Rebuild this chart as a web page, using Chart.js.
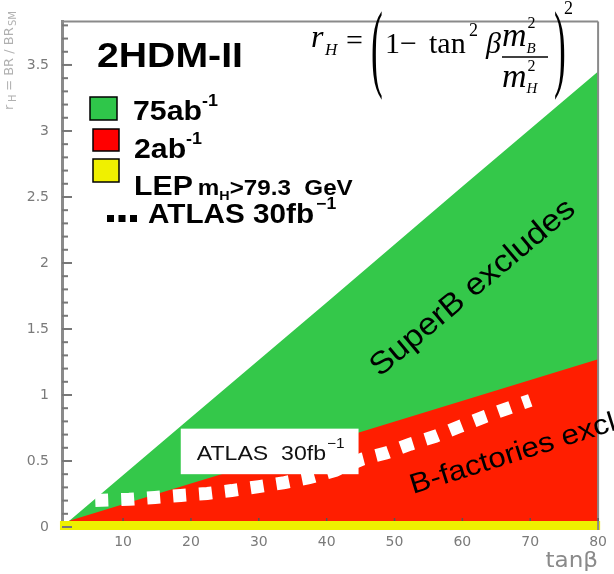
<!DOCTYPE html>
<html>
<head>
<meta charset="utf-8">
<script src="https://cdn.jsdelivr.net/npm/chart.js@4.4.1/dist/chart.umd.min.js"></script>
<style>
  html, body { margin: 0; padding: 0; background: #ffffff; }
  #wrap { width: 614px; height: 574px; }
</style>
</head>
<body>
<div id="wrap"><canvas id="c" width="614" height="574"></canvas></div>
<script>
// r_H exclusion regions versus tan(beta)
const superbTanb = [1, 20, 40, 60, 80];
const superbR    = [0.0, 0.83, 1.70, 2.58, 3.45];

const bfacTanb = [1, 20, 45, 80];
const bfacR    = [0.03, 0.33, 0.72, 1.27];

const lepTanb = [0.7, 80.3];
const lepR    = [0.011, 0.011];

const atlasTanb = [5.9, 10.9, 14.7, 18.5, 22.4, 26.0, 30.0, 33.8, 37.4, 41.3, 45.3, 48.7, 52.3, 56.0, 59.6, 63.3, 66.9, 70.0];
const atlasR    = [0.20, 0.21, 0.224, 0.239, 0.254, 0.276, 0.306, 0.336, 0.373, 0.43, 0.515, 0.56, 0.627, 0.687, 0.761, 0.836, 0.903, 0.96];

const xTicks = [10, 20, 30, 40, 50, 60, 70, 80];
const yTicks = [0, 0.5, 1, 1.5, 2, 2.5, 3, 3.5];

const pts = (xs, ys) => xs.map((x, i) => ({ x: x, y: ys[i] }));

const SANS = '"Liberation Sans", Arial, sans-serif';
const SERIF = '"Liberation Serif", "Times New Roman", serif';

// text helper with optional horizontal stretch; returns drawn width
function txt(ctx, s, x, y, font, color, sx, align) {
  ctx.save();
  ctx.font = font;
  ctx.fillStyle = color || '#000';
  ctx.textAlign = align || 'left';
  ctx.textBaseline = 'alphabetic';
  ctx.translate(x, y);
  ctx.scale(sx || 1, 1);
  ctx.fillText(s, 0, 0);
  const w = ctx.measureText(s).width * (sx || 1);
  ctx.restore();
  return w;
}

function line(ctx, x1, y1, x2, y2, color, w) {
  ctx.save();
  ctx.strokeStyle = color;
  ctx.lineWidth = w;
  ctx.beginPath();
  ctx.moveTo(x1, y1);
  ctx.lineTo(x2, y2);
  ctx.stroke();
  ctx.restore();
}

const decor = {
  id: 'decor',
  afterDraw(chart) {
    const ctx = chart.ctx;
    const a = chart.chartArea;
    const xs = chart.scales.x, ys = chart.scales.y;
    const gray = '#8a8a8a';

    // frame: top and right edges
    line(ctx, a.left, a.top, a.right, a.top, gray, 2);
    line(ctx, a.right, a.top, a.right, a.bottom + 3, gray, 2);

    // inward ticks on the y axis: every 0.1, longer every 0.5
    for (let i = 0; i <= 38; i++) {
      const v = i / 10;
      const py = ys.getPixelForValue(v);
      if (py < a.top + 2) continue;
      const major = (i % 5 === 0);
      line(ctx, a.left, py, a.left + (major ? 10 : 6), py, '#777', 2);
    }
    // inward ticks on the x axis (visible just above the LEP band)
    xTicks.forEach(v => {
      const px = xs.getPixelForValue(v);
      line(ctx, px, a.bottom - 6, px, a.bottom - 9, '#555', 1.5);
    });

    // axis titles
    txt(ctx, 'tan\u03B2', a.right, 567, '22px "DejaVu Sans", sans-serif', '#8a8a8a', 1.05, 'right');
    ctx.save();
    ctx.translate(13, 110);
    ctx.rotate(-Math.PI / 2);
    txt(ctx, 'r', 0, 0, '13px "DejaVu Sans", sans-serif', '#b0b0b0');
    txt(ctx, 'H', 8, 3, '10px "DejaVu Sans", sans-serif', '#b0b0b0');
    txt(ctx, ' = BR / BR', 15, 0, '13px "DejaVu Sans", sans-serif', '#b0b0b0');
    txt(ctx, 'SM', 84, 3, '10px "DejaVu Sans", sans-serif', '#b0b0b0');
    ctx.restore();

    // region labels
    ctx.save();
    ctx.translate(472, 287);
    ctx.rotate(-40 * Math.PI / 180);
    txt(ctx, 'SuperB excludes', 0, 10, '31px ' + SANS, '#000', 1.1, 'center');
    ctx.restore();

    ctx.save();
    ctx.translate(413, 494);
    ctx.rotate(-17.5 * Math.PI / 180);
    txt(ctx, 'B-factories excludes', 0, 0, '28px ' + SANS, '#000', 1.12, 'left');
    ctx.restore();

    // ATLAS label box
    const bx1 = xs.getPixelForValue(18.5), bx2 = xs.getPixelForValue(44.7);
    const by1 = ys.getPixelForValue(0.745), by2 = ys.getPixelForValue(0.40);
    ctx.save();
    ctx.fillStyle = '#ffffff';
    ctx.fillRect(bx1, by1, bx2 - bx1, by2 - by1);
    ctx.restore();
    let w = txt(ctx, 'ATLAS  30fb', bx1 + 16, by1 + 31, '21px ' + SANS, '#111', 1.1);
    txt(ctx, '\u22121', bx1 + 17 + w, by1 + 19, '14px ' + SANS, '#111', 1.1);

    // model title
    txt(ctx, '2HDM-II', 97, 67, 'bold 35px ' + SANS, '#000', 1.12);

    // legend
    const boxes = [
      { x: 90, y: 97, w: 27, h: 23, c: '#2fc64a' },
      { x: 93, y: 129, w: 26, h: 22, c: '#ff0000' },
      { x: 93, y: 159, w: 26, h: 23, c: '#f0f000' }
    ];
    boxes.forEach(b => {
      ctx.save();
      ctx.fillStyle = b.c;
      ctx.fillRect(b.x, b.y, b.w, b.h);
      ctx.strokeStyle = '#000';
      ctx.lineWidth = 1.5;
      ctx.strokeRect(b.x, b.y, b.w, b.h);
      ctx.restore();
    });
    const LF = 'bold 27px ' + SANS, LS = 'bold 16px ' + SANS;
    w = txt(ctx, '75ab', 133, 120, LF, '#000', 1.12);
    txt(ctx, '-1', 133 + w, 106, LS, '#000', 1.12);
    w = txt(ctx, '2ab', 134, 158, LF, '#000', 1.12);
    txt(ctx, '-1', 134 + w, 144, LS, '#000', 1.12);
    w = txt(ctx, 'LEP', 134, 195, LF, '#000', 1.12);
    let x0 = 134 + w + 5;
    x0 += txt(ctx, 'm', x0, 195, 'bold 22px ' + SANS, '#000', 1.1);
    x0 += txt(ctx, 'H', x0, 200, 'bold 13px ' + SANS, '#000', 1.1);
    txt(ctx, '>79.3  GeV', x0, 195, 'bold 22px ' + SANS, '#000', 1.1);
    ctx.save();
    ctx.strokeStyle = '#000';
    ctx.lineWidth = 7;
    ctx.setLineDash([7, 4.5]);
    ctx.beginPath();
    ctx.moveTo(107, 218.5);
    ctx.lineTo(137, 218.5);
    ctx.stroke();
    ctx.restore();
    w = txt(ctx, 'ATLAS 30fb', 148, 223, LF, '#000', 1.1);
    txt(ctx, '\u22121', 150 + w, 209, LS, '#000', 1.1);

    // formula r_H = (1 - tan^2 beta m_B^2 / m_H^2)^2
    const FR = '30px ' + SERIF;
    txt(ctx, 'r', 311, 47, 'italic 32px ' + SERIF, '#000');
    txt(ctx, 'H', 325, 55, 'italic 17px ' + SERIF, '#000');
    txt(ctx, '=', 346, 50, FR, '#000');
    ctx.save();
    ctx.translate(371, 79);
    ctx.scale(0.36, 1);
    txt(ctx, '(', 0, 0, '98px ' + SERIF, '#000');
    ctx.restore();
    txt(ctx, '1', 385, 53, FR, '#000');
    txt(ctx, '\u2212', 400, 53, FR, '#000');
    txt(ctx, 'tan', 429, 53, FR, '#000');
    txt(ctx, '2', 469, 36, '18px ' + SERIF, '#000');
    txt(ctx, '\u03B2', 486, 53, 'italic 30px ' + SERIF, '#000');
    w = txt(ctx, 'm', 502, 46, 'italic 34px ' + SERIF, '#000');
    txt(ctx, '2', 503 + w, 28, '16px ' + SERIF, '#000');
    txt(ctx, 'B', 502 + w, 53, 'italic 15px ' + SERIF, '#000');
    line(ctx, 502, 57, 548, 57, '#000', 1.5);
    txt(ctx, 'm', 502, 87, 'italic 34px ' + SERIF, '#000');
    txt(ctx, '2', 503 + w, 71, '16px ' + SERIF, '#000');
    txt(ctx, 'H', 502 + w, 93, 'italic 15px ' + SERIF, '#000');
    ctx.save();
    ctx.translate(554, 79);
    ctx.scale(0.36, 1);
    txt(ctx, ')', 0, 0, '98px ' + SERIF, '#000');
    ctx.restore();
    txt(ctx, '2', 564, 14, '18px ' + SERIF, '#000');
  }
};

new Chart(document.getElementById('c'), {
  type: 'line',
  data: {
    datasets: [
      {
        label: 'ATLAS 30fb-1',
        data: pts(atlasTanb, atlasR),
        borderColor: '#ffffff',
        borderWidth: 13,
        borderDash: [13, 13],
        borderCapStyle: 'butt',
        pointRadius: 0,
        fill: false,
        tension: 0
      },
      {
        label: 'LEP',
        data: pts(lepTanb, lepR),
        borderColor: '#eef000',
        borderWidth: 9,
        borderCapStyle: 'butt',
        pointRadius: 0,
        fill: false,
        clip: false
      },
      {
        label: '2ab-1',
        data: pts(bfacTanb, bfacR),
        borderColor: '#ff1e00',
        backgroundColor: '#ff1e00',
        borderWidth: 0,
        pointRadius: 0,
        fill: 'origin'
      },
      {
        label: '75ab-1',
        data: pts(superbTanb, superbR),
        borderColor: '#34c84a',
        backgroundColor: '#34c84a',
        borderWidth: 0,
        pointRadius: 0,
        fill: 'origin'
      }
    ]
  },
  options: {
    responsive: false,
    animation: false,
    devicePixelRatio: 1,
    layout: { padding: { top: 14, right: 11, left: 0, bottom: 0 } },
    plugins: { legend: { display: false }, tooltip: { enabled: false } },
    scales: {
      x: {
        type: 'linear',
        min: 1,
        max: 80,
        afterBuildTicks: s => { s.ticks = xTicks.map(v => ({ value: v })); },
        afterFit: s => { s.height = 47; },
        grid: { display: false, drawTicks: false },
        border: { display: false },
        ticks: {
          padding: 7,
          color: '#7a7a7a',
          font: { family: '"DejaVu Sans", sans-serif', size: 14 },
          maxRotation: 0,
          autoSkip: false
        }
      },
      y: {
        type: 'linear',
        min: 0,
        max: 3.83,
        afterBuildTicks: s => { s.ticks = yTicks.map(v => ({ value: v })); },
        afterFit: s => { s.width = 62; },
        grid: { display: false, drawTicks: false },
        border: { display: true, color: '#8a8a8a', width: 3 },
        ticks: {
          padding: 13,
          color: '#7a7a7a',
          font: { family: '"DejaVu Sans", sans-serif', size: 14 },
          autoSkip: false,
          callback: v => String(v)
        }
      }
    }
  },
  plugins: [decor]
});
</script>
</body>
</html>
